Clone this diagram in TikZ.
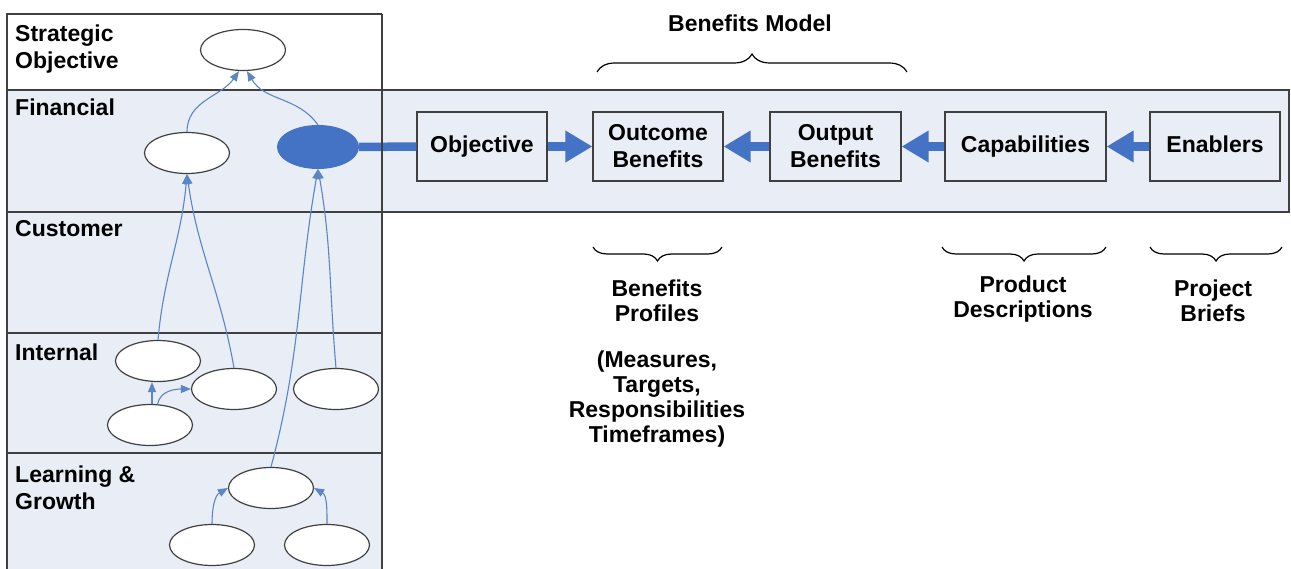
\documentclass[tikz,border=0pt]{standalone}
\usepackage{fontspec}
\setmainfont{Liberation Sans}
\usetikzlibrary{shapes.geometric,arrows.meta,decorations.pathreplacing}
\definecolor{bandblue}{HTML}{E8EDF6}
\definecolor{linegray}{HTML}{404040}
\definecolor{dblue}{HTML}{4472C4}
\definecolor{ablue}{HTML}{5A86C5}
\newcommand\dgfont{\fontsize{23}{27}\selectfont\bfseries}
\newcommand\dgfontb{\fontsize{23}{25}\selectfont\bfseries}
\tikzset{
  oval/.style={ellipse, draw=linegray, fill=white, line width=1.2pt, minimum width=85pt, minimum height=41pt, inner sep=0pt},
  dotoval/.style={ellipse, draw=dblue, fill=dblue, line width=1pt, minimum width=81pt, minimum height=43pt, inner sep=0pt},
  stagebox/.style={draw=linegray, line width=1.2pt, minimum height=69pt, align=center, inner sep=0pt, font=\dgfont},
  oneline/.style={text height=16.5pt, text depth=5pt},
  rowlabel/.style={anchor=north west, align=left, inner sep=0pt, font=\dgfont},
  notetext/.style={anchor=north, align=center, inner sep=0pt, font=\dgfontb},
  thinarrow/.style={draw=ablue, line width=1.1pt, -{Triangle[length=10pt,width=8pt]}},
  thickarrow/.style={draw=dblue, line width=8.5pt, -{Triangle[length=27pt,width=30pt]}},
  gridline/.style={draw=linegray, line width=1.3pt},
  bracestyle/.style={draw=black, line width=1.2pt, decorate, decoration={brace, amplitude=14pt}},
}
\begin{document}
\begin{tikzpicture}[x=1pt,y=1pt]
\useasboundingbox (0,0) rectangle (1291,-569);
% backgrounds
\fill[white] (7,-14) rectangle (382,-90);
\fill[bandblue] (7,-90) rectangle (382,-575);
\fill[bandblue] (382,-90) rectangle (1289,-212);
% grid lines (except the panel's right edge)
\draw[gridline] (7,-575) -- (7,-14) -- (382,-14);
\draw[gridline] (7,-90) -- (1289,-90) -- (1289,-212) -- (7,-212);
\draw[gridline] (7,-333) -- (382,-333);
\draw[gridline] (7,-453) -- (382,-453);
% row labels
\node[rowlabel] (lso) at (15,-25) {Strategic\\Objective};
\node[rowlabel] (lfi) at (15,-99) {Financial};
\node[rowlabel] (lcu) at (15,-220) {Customer};
\node[rowlabel] (lin) at (15,-344) {Internal};
\node[rowlabel] (lle) at (15,-466) {Learning \&\\Growth};
% ellipses
\node[oval] (so) at (243,-50) {};
\node[oval] (fl) at (187,-153) {};
\node[dotoval] (ff) at (318,-147) {};
\node[oval] (e1) at (158,-361) {};
\node[oval] (e2) at (234,-389) {};
\node[oval] (e3) at (336,-389) {};
\node[oval] (e4) at (150,-425) {};
\node[oval] (l1) at (271,-488) {};
\node[oval] (l2) at (212,-545) {};
\node[oval] (l3) at (327,-545) {};
% thin connectors
\draw[thinarrow] (fl.north) to[out=90,in=-125] ([xshift=-4pt]so.south);
\draw[thinarrow] (ff.north) to[out=125,in=-60] ([xshift=4pt]so.south);
\draw[thinarrow] (e1.north) to[out=85,in=-95] (fl.south);
\draw[thinarrow] (e2.north) to[out=100,in=-82] (fl.south);
\draw[thinarrow] (e3.north) to[out=95,in=-80] (ff.south);
\draw[thinarrow] (l1.north) to[out=75,in=-100] (ff.south);
\draw[thinarrow] ([xshift=2pt]e4.north) -- ([xshift=2pt]e4.north |- e1.south);
\draw[thinarrow] (e4.70) to[out=80,in=180] (e2.west);
\draw[thinarrow] (l2.north) to[out=90,in=-150] (l1.west);
\draw[thinarrow] (l3.north) to[out=90,in=-30] (l1.east);
% stage boxes
\node[stagebox, oneline, minimum width=130pt] (obj) at (482,-146.5) {Objective};
\node[stagebox, minimum width=130pt] (outc) at (658,-146.5) {Outcome\\Benefits};
\node[stagebox, minimum width=131pt] (outp) at (835.5,-146.5) {Output\\Benefits};
\node[stagebox, oneline, minimum width=161pt] (cap) at (1025.5,-146.5) {Capabilities};
\node[stagebox, oneline, minimum width=130pt] (ena) at (1215,-146.5) {Enablers};
% thick connectors
\draw[draw=dblue, line width=8.5pt] (ff.east) -- (obj.west);
\draw[thickarrow] (obj.east) -- (outc.west);
\draw[thickarrow] (outp.west) -- (outc.east);
\draw[thickarrow] (cap.west) -- (outp.east);
\draw[thickarrow] (ena.west) -- (cap.east);
% panel right edge on top
\draw[gridline] (382,-14) -- (382,-575);
% braces
\coordinate (bmL) at (597,-72);
\coordinate (bmR) at (907,-72);
\draw[bracestyle, decoration={amplitude=18pt}] (bmL) -- (bmR);
\node[notetext] (bm) at (750,-15) {Benefits Model};
\coordinate (bpR) at (722,-247);
\coordinate (bpL) at (593,-247);
\draw[bracestyle] (bpR) -- (bpL);
\coordinate (pdR) at (1106,-247);
\coordinate (pdL) at (942,-247);
\draw[bracestyle] (pdR) -- (pdL);
\coordinate (pbR) at (1282,-247);
\coordinate (pbL) at (1150,-247);
\draw[bracestyle] (pbR) -- (pbL);
\node[notetext] (bp) at (657,-280) {Benefits\\Profiles};
\node[notetext] (ms) at (657,-351) {(Measures,\\Targets,\\Responsibilities\\Timeframes)};
\node[notetext] (pd) at (1023,-276) {Product\\Descriptions};
\node[notetext] (pb) at (1213,-280) {Project\\Briefs};
\end{tikzpicture}
\end{document}
